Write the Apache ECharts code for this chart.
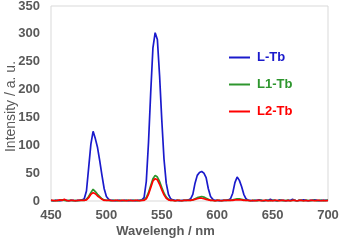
<!DOCTYPE html>
<html>
<head>
<meta charset="utf-8">
<script src="https://cdn.jsdelivr.net/npm/echarts@6/dist/echarts.min.js"></script>
<style>
html, body { margin: 0; padding: 0; background: #fff; }
#chart { width: 340px; height: 242px; }
</style>
</head>
<body>
<div id="chart"></div>
<script>
// wavelength in nm, 2 nm steps
var wavelength = [450,452,454,456,458,460,462,464,466,468,470,472,474,476,478,
  480,482,484,486,488,490,492,494,496,498,500,
  502,504,506,508,510,512,514,516,518,520,522,524,526,528,530,532,
  534,536,538,540,542,544,546,548,550,552,554,556,558,
  560,562,564,566,568,570,572,574,
  576,578,580,582,584,586,588,590,592,594,596,
  598,600,602,604,606,608,610,
  612,614,616,618,620,622,624,626,
  628,630,632,634,636,638,640,642,644,646,648,650,652,654,656,658,660,662,664,666,668,670,672,674,676,678,680,682,684,686,688,690,692,694,696,698,700];

var lTb = [1,0,1,1,0,1,2,1,0,1,1,0,1,1,2,
  4,18,60,102,125,112,96,72,46,22,8,
  3,1,1,0,1,1,0,1,1,0,1,1,0,1,1,2,
  6,35,105,195,275,302,290,225,145,75,32,12,4,
  2,1,1,0,1,1,1,2,
  4,12,32,46,51,53,50,42,22,8,3,
  1,1,0,1,1,1,2,
  4,14,33,43,37,26,12,4,
  1,1,0,1,1,2,1,0,1,1,3,1,1,0,2,1,1,0,1,1,3,1,0,1,1,2,1,0,1,1,2,1,0,1,1,1,1];

var l1Tb = [1,0,1,0,1,2,1,0,1,1,0,1,0,1,1,
  1,3,8,15,21,17,12,8,4,2,1,
  1,0,1,1,0,1,1,0,1,1,0,1,1,0,1,1,
  2,6,15,28,40,46,43,35,24,14,7,3,1,
  1,0,1,1,0,1,1,1,
  1,2,4,6,7,8,7,5,3,1,1,
  0,1,1,0,1,1,1,
  1,2,3,4,4,3,2,1,
  1,0,1,1,0,1,1,0,1,1,0,1,1,0,1,1,0,1,1,0,1,1,0,1,1,0,1,1,0,1,1,0,1,1,0,1,1];

var l2Tb = [1,1,0,1,2,1,3,1,0,1,1,0,1,1,1,
  1,2,6,12,15,13,9,6,3,1,1,
  1,1,0,1,1,0,1,1,0,1,1,0,1,1,0,1,
  1,4,12,24,36,40,38,30,20,11,5,2,1,
  1,0,1,1,0,1,1,1,
  1,2,3,4,5,5,4,3,2,1,1,
  0,1,1,0,1,1,1,
  1,1,2,2,2,2,1,1,
  1,0,1,0,1,1,0,1,1,0,1,0,1,1,0,1,1,0,1,0,1,1,0,1,1,0,1,0,1,1,0,1,1,0,1,0,1];

var seriesNames = ['L-Tb', 'L1-Tb', 'L2-Tb'];
var seriesColors = ['#1a1acc', '#2e962e', '#ff0000'];

function pairs(ys) {
  var out = [];
  for (var i = 0; i < wavelength.length; i++) out.push([wavelength[i], ys[i]]);
  return out;
}

var allData = [lTb, l1Tb, l2Tb];
var series = [];
for (var k = 0; k < 3; k++) {
  series.push({
    name: seriesNames[k],
    type: 'line',
    data: pairs(allData[k]),
    symbol: 'none',
    smooth: false,
    lineStyle: { width: 1.7, color: seriesColors[k] },
    itemStyle: { color: seriesColors[k] },
    z: 2 + k
  });
}

var myChart = echarts.init(document.getElementById('chart'));
var option = {
  animation: false,
  backgroundColor: '#fff',
  grid: {
    left: 51, right: 12, top: 6, bottom: 41,
    containLabel: false,
    outerBoundsMode: 'none',
    show: true, borderColor: '#d9d9d9', borderWidth: 1
  },
  legend: {
    orient: 'vertical',
    left: 229,
    top: 51,
    padding: 0,
    icon: 'rect',
    itemWidth: 21,
    itemHeight: 2,
    itemGap: 14,
    data: seriesNames.map(function (n, i) {
      return { name: n, textStyle: { color: seriesColors[i] } };
    }),
    textStyle: { fontFamily: 'Liberation Sans', fontWeight: 'bold', fontSize: 13, padding: [0, 0, 0, 2] }
  },
  xAxis: {
    type: 'value',
    min: 450, max: 700, interval: 50,
    name: 'Wavelengh / nm',
    nameLocation: 'middle',
    nameGap: 24,
    nameMoveOverlap: false,
    nameTextStyle: { color: '#595959', fontFamily: 'Liberation Sans', fontWeight: 'bold', fontSize: 13, padding: [0, 48, 0, 0] },
    axisLine: { show: false },
    axisTick: { show: false },
    splitLine: { show: false },
    axisLabel: { color: '#595959', fontFamily: 'Liberation Sans', fontWeight: 'bold', fontSize: 13, margin: 8 }
  },
  yAxis: {
    type: 'value',
    min: 0, max: 350, interval: 50,
    name: 'Intensity / a. u.',
    nameLocation: 'middle',
    nameGap: 33,
    nameMoveOverlap: false,
    nameTextStyle: { color: '#595959', fontFamily: 'Liberation Sans', fontSize: 14, padding: [0, 6, 0, 0] },
    axisLine: { show: false },
    axisTick: { show: false },
    splitLine: { show: false },
    axisLabel: { color: '#595959', fontFamily: 'Liberation Sans', fontWeight: 'bold', fontSize: 13, margin: 11 }
  },
  series: series
};
option && myChart.setOption(option);
</script>
</body>
</html>
